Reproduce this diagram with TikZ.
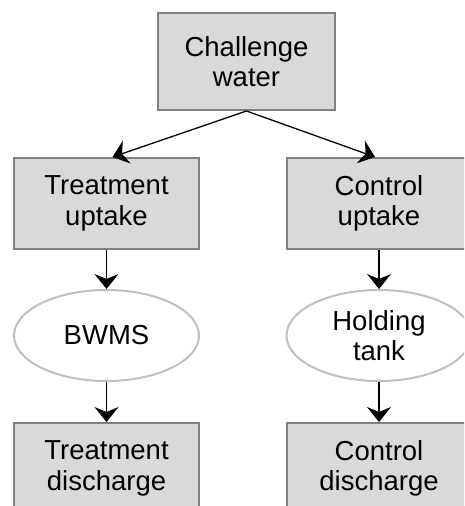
\documentclass[tikz,border=0pt]{standalone}
\usepackage{fontspec}
\setmainfont{Liberation Sans}
\usetikzlibrary{arrows.meta,shapes.geometric,positioning}
\definecolor{boxfill}{HTML}{D9D9D9}
\definecolor{boxline}{HTML}{808080}
\definecolor{ovalline}{HTML}{BFBFBF}

\begin{document}
\begin{tikzpicture}[
  x=1pt, y=1pt,
  every node/.style={font=\fontsize{27.5}{30.6}\selectfont, align=center, text=black},
  stage/.style={rectangle, draw=boxline, fill=boxfill, line width=2pt,
                minimum width=185pt, minimum height=91pt, inner sep=0pt},
  unit/.style={ellipse, draw=ovalline, fill=white, line width=2pt,
               minimum width=185pt, minimum height=91pt, inner sep=0pt},
  arr/.style={-{Stealth[length=15pt, width=24pt, inset=5pt]}, line width=1.3pt},
]
\useasboundingbox (0,0) rectangle (464,-506);
\clip (0,0) rectangle (464,-506);

%% Source
\node[stage, minimum width=177pt, minimum height=97pt] (CW) at (246.5,-61.5)
  {Challenge\\water};

%% Uptake
\node[stage] (TU) at (106.5,-203.5) {Treatment\\uptake};
\node[stage] (CU) at (379,-203.5) {Control\\uptake};

%% Processing
\node[unit, below=39pt of TU] (BW) {BWMS};
\node[unit, below=39pt of CU] (HT) {Holding\\tank};

%% Discharge
\node[stage, below=40pt of BW] (TD) {Treatment\\discharge};
\node[stage, below=40pt of HT] (CD) {Control\\discharge};

%% Arrows
\draw[arr] (CW.south) -- ([xshift=6pt]TU.north);
\draw[arr] (CW.south) -- ([xshift=-4pt]CU.north);
\draw[arr] (TU) -- (BW);
\draw[arr] (CU) -- (HT);
\draw[arr] (BW) -- (TD);
\draw[arr] (HT) -- (CD);

\end{tikzpicture}
\end{document}
